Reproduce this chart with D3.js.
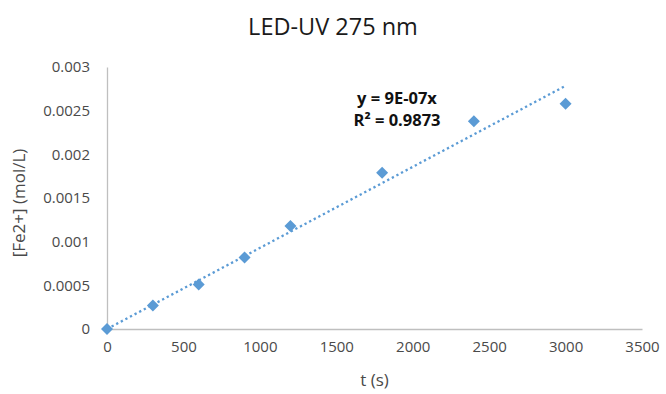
<!DOCTYPE html>
<html><head><meta charset="utf-8">
<script src="https://cdn.jsdelivr.net/npm/d3@7"></script>
<style>body{margin:0;background:#fff}svg{display:block}text{font-family:"Open Sans",sans-serif}</style>
</head><body><svg id="c" width="666" height="394"></svg>
<script>
const times = [0, 300, 600, 900, 1200, 1800, 2400, 3000];
const fe2 = [0, 0.00027, 0.00051, 0.00082, 0.00118, 0.00179, 0.00238, 0.00258];
const xTicks = [0, 500, 1000, 1500, 2000, 2500, 3000, 3500];
const yTicks = [0, 0.0005, 0.001, 0.0015, 0.002, 0.0025, 0.003];
const yTickLabels = ["0", "0.0005", "0.001", "0.0015", "0.002", "0.0025", "0.003"];
const titleText = "LED-UV 275 nm";
const xTitle = "t (s)";
const yTitle = "[Fe2+] (mol/L)";
const eqLines = ["y = 9E-07x", "R\u00B2 = 0.9873"];

const svg = d3.select("#c");
const x = d3.scaleLinear().domain([0, 3500]).range([107, 642]);
const y = d3.scaleLinear().domain([0, 0.003]).range([329, 67]);
const blue = "#5b9bd5", grey = "#bfbfbf", txt = "#4a4a4a";

// axes
const xa = svg.append("g").attr("transform", `translate(0,${y(0)})`)
  .call(d3.axisBottom(x).tickValues(xTicks).tickSize(0).tickPadding(12).tickFormat(d3.format("d")));
const ya = svg.append("g").attr("transform", `translate(${x(0)},0)`)
  .call(d3.axisLeft(y).tickValues(yTicks).tickSize(0).tickPadding(17).tickFormat((d,i)=>yTickLabels[i]));
[xa, ya].forEach(a => {
  a.select(".domain").attr("stroke", grey).attr("stroke-width", 1.3);
  a.selectAll("text").attr("fill", txt).style("font-size", "15px").style("font-family", "'Open Sans',sans-serif");
});

// trendline (least squares through origin)
let sxy = 0, sxx = 0;
times.forEach((t, i) => { sxy += t * fe2[i]; sxx += t * t; });
const slope = sxy / sxx;
const tMax = d3.max(times);
svg.append("line")
  .attr("x1", x(0)).attr("y1", y(0)).attr("x2", x(tMax)).attr("y2", y(slope * tMax))
  .attr("stroke", blue).attr("stroke-width", 2.3).attr("stroke-dasharray", "2.3 2.9");

// markers
svg.append("g").selectAll("path").data(times).join("path")
  .attr("d", d3.symbol(d3.symbolSquare, 72))
  .attr("transform", (d, i) => `translate(${x(d)},${y(fe2[i])}) rotate(45)`)
  .attr("fill", blue);

// equation
svg.append("g").selectAll("text").data(eqLines).join("text")
  .attr("x", 397).attr("y", (d, i) => 104 + i * 22)
  .attr("text-anchor", "middle").attr("fill", "#111")
  .style("font-size", "16.5px").style("font-weight", "bold").text(d => d);

// titles
svg.append("text").attr("x", 333).attr("y", 35).attr("text-anchor", "middle")
  .attr("fill", "#1a1a1a").style("font-size", "23.5px").text(titleText);
svg.append("text").attr("x", (x(0) + x(3500)) / 2).attr("y", 386).attr("text-anchor", "middle")
  .attr("fill", txt).style("font-size", "17px").text(xTitle);
svg.append("text").attr("transform", `translate(25,203) rotate(-90)`).attr("text-anchor", "middle")
  .attr("fill", txt).style("font-size", "17px").text(yTitle);
</script></body></html>
